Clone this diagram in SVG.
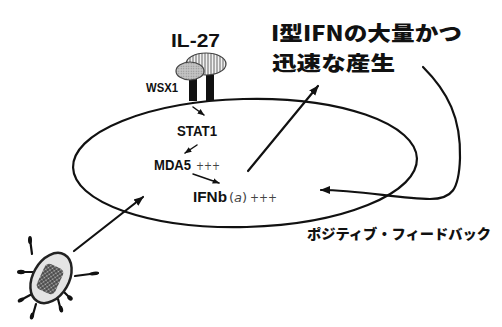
<svg xmlns="http://www.w3.org/2000/svg" width="502" height="327" viewBox="0 0 502 327">
  <style>
    .line { fill: none; stroke: #111; stroke-width: 2.2; stroke-linecap: round; }
    .thin { fill: none; stroke: #111; stroke-width: 1.5; stroke-linecap: round; }
    .lbl { font-family: "Liberation Sans", "DejaVu Sans", sans-serif; font-weight: bold; fill: #111; }
    .plus { font-family: "DejaVu Sans", sans-serif; fill: #444; }
    .jp { font-family: "Noto Sans CJK JP", "Liberation Sans", sans-serif; font-weight: 900; fill: #111; }
    .flag { stroke: #111; stroke-width: 2.2; stroke-linecap: round; }
  </style>
  <defs>
    <marker id="head" viewBox="0 0 10 10" refX="9" refY="5" markerWidth="10" markerHeight="10" markerUnits="userSpaceOnUse" orient="auto">
      <path d="M0,1 L10,5 L0,9 z" fill="#111"/>
    </marker>
    <marker id="headS" viewBox="0 0 10 10" refX="9" refY="5" markerWidth="7" markerHeight="7" markerUnits="userSpaceOnUse" orient="auto">
      <path d="M0,1 L10,5 L0,9 z" fill="#111"/>
    </marker>
    <pattern id="vstripe" width="3" height="3" patternUnits="userSpaceOnUse">
      <rect width="3" height="3" fill="#f2f2f2"/>
      <line x1="1" y1="0" x2="1" y2="3" stroke="#666" stroke-width="1"/>
    </pattern>
    <pattern id="dots" width="2.5" height="2.5" patternUnits="userSpaceOnUse">
      <rect width="2.5" height="2.5" fill="#c4c4c4"/>
      <circle cx="1.25" cy="1.25" r="0.6" fill="#888"/>
    </pattern>
    <pattern id="grid" width="3" height="3" patternUnits="userSpaceOnUse" patternTransform="rotate(30)">
      <rect width="3" height="3" fill="#444"/>
      <circle cx="1.5" cy="1.5" r="0.9" fill="#bbb"/>
    </pattern>
  </defs>

  <!-- cell membrane -->
  <g id="cell">
    <ellipse cx="245" cy="163" rx="172" ry="64" transform="rotate(-1.5 245 163)" class="line" stroke-width="2.6"/>
  </g>

  <!-- IL-27 bound to its receptor -->
  <g id="receptor">
    <rect x="189" y="75" width="8" height="26" fill="#111"/>
    <rect x="206" y="73" width="8" height="28" fill="#111"/>
    <ellipse cx="206" cy="64" rx="20" ry="11" fill="url(#vstripe)" stroke="#444" stroke-width="1.2"/>
    <ellipse cx="190" cy="71" rx="14" ry="9" fill="url(#dots)" stroke="#444" stroke-width="1.2"/>
    <text x="171" y="47" class="lbl" font-size="19" textLength="49" lengthAdjust="spacingAndGlyphs">IL-27</text>
    <text x="146" y="92" class="lbl" font-size="12" textLength="32" lengthAdjust="spacingAndGlyphs">WSX1</text>
  </g>

  <g id="stat1">
    <text x="177" y="136" class="lbl" font-size="14" textLength="40" lengthAdjust="spacingAndGlyphs">STAT1</text>
  </g>

  <g id="mda5">
    <text x="154" y="170" class="lbl" font-size="14" textLength="37" lengthAdjust="spacingAndGlyphs">MDA5</text>
    <text x="196" y="170" class="plus" font-size="12" textLength="24" lengthAdjust="spacingAndGlyphs">+++</text>
  </g>

  <g id="ifnb">
    <text x="193" y="202" class="lbl" font-size="14" textLength="34" lengthAdjust="spacingAndGlyphs">IFNb</text>
    <text x="229" y="202" class="plus" font-size="13" fill="#222">(<tspan font-style="italic">a</tspan>)</text>
    <text x="250" y="202" class="plus" font-size="12" textLength="27" lengthAdjust="spacingAndGlyphs">+++</text>
  </g>

  <!-- two-line caption -->
  <g id="result">
    <text x="271" y="41" class="jp" font-size="20.5" textLength="191" lengthAdjust="spacingAndGlyphs">I型IFNの大量かつ</text>
    <text x="272" y="71" class="jp" font-size="20.5" textLength="123" lengthAdjust="spacingAndGlyphs">迅速な産生</text>
  </g>

  <g id="feedback-label">
    <text x="307" y="239" class="jp" font-size="14" textLength="184" lengthAdjust="spacingAndGlyphs">ポジティブ・フィードバック</text>
  </g>

  <!-- virus particle -->
  <g id="virus">
    <g class="flag">
      <line x1="32" y1="254" x2="30" y2="239"/>
      <line x1="33" y1="272" x2="19" y2="272"/>
      <line x1="75" y1="276" x2="98" y2="273"/>
      <line x1="32" y1="294" x2="19" y2="301"/>
      <line x1="36" y1="304" x2="32" y2="318"/>
      <line x1="58" y1="299" x2="61" y2="311"/>
      <line x1="64" y1="292" x2="71" y2="299"/>
    </g>
    <g fill="#111">
      <ellipse cx="30" cy="240" rx="2" ry="4"/>
      <ellipse cx="21" cy="272" rx="4" ry="2.2"/>
      <ellipse cx="94" cy="273.5" rx="5" ry="1.8" transform="rotate(-7 94 273.5)"/>
      <ellipse cx="21" cy="300" rx="3.5" ry="2" transform="rotate(-28 21 300)"/>
      <ellipse cx="32" cy="316" rx="2" ry="3.5" transform="rotate(15 32 316)"/>
      <ellipse cx="61" cy="309" rx="2" ry="3.5" transform="rotate(-15 61 309)"/>
      <ellipse cx="70" cy="298" rx="3" ry="2.2" transform="rotate(40 70 298)"/>
    </g>
    <ellipse cx="51" cy="278" rx="18" ry="27" transform="rotate(30 51 278)" fill="#e4e4e4" stroke="#222" stroke-width="2.5"/>
    <rect x="40" y="265" width="20" height="28" rx="5" transform="rotate(25 50 279)" fill="url(#grid)"/>
  </g>

  <!-- connectors -->
  <g id="connectors">
    <line x1="193" y1="107" x2="204" y2="115" class="thin" marker-end="url(#headS)"/>
    <line x1="197" y1="145" x2="185" y2="153" class="thin" marker-end="url(#headS)"/>
    <line x1="193" y1="174" x2="219" y2="183" class="thin" marker-end="url(#headS)"/>
    <line x1="248" y1="171" x2="318" y2="86" class="line" marker-end="url(#head)"/>
    <line x1="74" y1="251" x2="143" y2="197" class="line" marker-end="url(#head)"/>
    <path d="M423,67 C448,92 461,118 460,158 C459,190 452,199 430,199 C400,199 360,190 321,190" class="line" marker-end="url(#head)"/>
  </g>
</svg>
